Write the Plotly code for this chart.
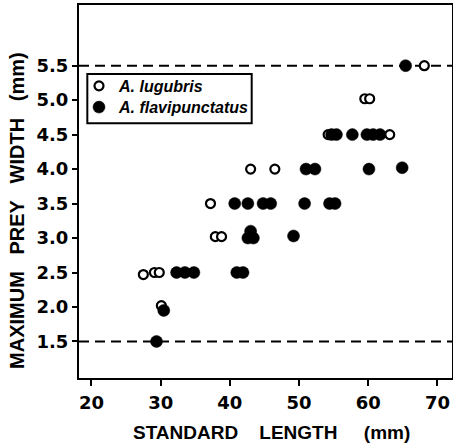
import plotly.graph_objects as go

# A. lugubris (open circles)
lug_x = [27.5, 29.1, 29.8, 30.1, 37.2, 37.9, 38.8, 43.0, 46.5, 54.2, 59.5, 60.2, 63.1, 68.1]
lug_y = [2.47, 2.5, 2.5, 2.02, 3.5, 3.02, 3.02, 4.0, 4.0, 4.5, 5.02, 5.02, 4.5, 5.5]

# A. flavipunctatus (filled circles)
flav_x = [29.4, 30.45, 32.3, 33.5, 34.8, 41.0, 41.9, 42.6, 43.0, 43.4, 40.7, 42.6, 44.8, 45.9,
          49.2, 50.8, 51.0, 52.3, 54.4, 55.2, 54.7, 55.4, 57.7, 59.8, 60.7, 61.7, 60.1, 64.9, 65.4]
flav_y = [1.5, 1.95, 2.5, 2.5, 2.5, 2.5, 2.5, 3.0, 3.1, 3.0, 3.5, 3.5, 3.5, 3.5,
          3.03, 3.5, 4.0, 4.0, 3.5, 3.5, 4.5, 4.5, 4.5, 4.5, 4.5, 4.5, 4.0, 4.02, 5.5]

limit_lines = [1.5, 5.5]
x_ticks = [20, 30, 40, 50, 60, 70]
y_ticks = [1.5, 2.0, 2.5, 3.0, 3.5, 4.0, 4.5, 5.0, 5.5]

NB = "\u00a0"
TICKFONT = dict(family="DejaVu Sans", size=18, color="black", weight="bold")
TITLEFONT = dict(family="Liberation Sans", size=20, color="black", weight="bold")
LEGFONT = dict(family="Liberation Sans", size=16, color="black", style="italic", weight="bold")

fig = go.Figure()
fig.add_trace(go.Scatter(
    x=lug_x, y=lug_y, mode="markers", name="A. lugubris", legend="legend",
    marker=dict(symbol="circle", size=9, color="white", line=dict(color="black", width=2.2)),
))
fig.add_trace(go.Scatter(
    x=flav_x, y=flav_y, mode="markers", name="A. flavipunctatus", legend="legend2",
    marker=dict(symbol="circle", size=12, color="black", line=dict(color="black", width=0.5)),
))

for v in limit_lines:
    fig.add_hline(y=v, line=dict(color="black", width=2, dash="10px,6px"), layer="below")

fig.update_xaxes(
    range=[18.2, 72.1], tickvals=x_ticks, ticks="outside", ticklen=6, tickwidth=2,
    tickcolor="black", showline=True, linecolor="black", linewidth=2, mirror=True,
    showgrid=False, zeroline=False, tickfont=TICKFONT, ticklabelstandoff=1,
    automargin=False,
)
fig.update_yaxes(
    range=[0.97, 6.38], tickvals=y_ticks, tickformat=".1f", ticks="outside", ticklen=5,
    tickwidth=2, tickcolor="black", showline=True, linecolor="black", linewidth=2,
    mirror=True, showgrid=False, zeroline=False, tickfont=TICKFONT, automargin=False,
)

fig.add_annotation(
    text=f"MAXIMUM{NB*3}PREY{NB*3}WIDTH{NB*3}(mm)", textangle=-90,
    xref="paper", yref="paper", x=-0.166, y=0.448, showarrow=False,
    font=TITLEFONT, xanchor="center", yanchor="middle",
)
fig.add_annotation(
    text=f"STANDARD{NB*4}LENGTH{NB*5}(mm)",
    xref="paper", yref="paper", x=0.515, y=-0.147, showarrow=False,
    font=dict(family="Liberation Sans", size=19, color="black", weight="bold"),
    xanchor="center", yanchor="middle",
)

# legend frame
fig.add_shape(type="rect", xref="paper", yref="paper", x0=0.0223, x1=0.463, y0=0.683, y1=0.815,
              line=dict(color="black", width=2), fillcolor="rgba(0,0,0,0)")

leg_common = dict(x=0.0, xanchor="left", yanchor="middle", bgcolor="rgba(0,0,0,0)",
                  borderwidth=0, font=LEGFONT, itemwidth=30)
fig.update_layout(
    width=453, height=448,
    margin=dict(l=79, r=1, t=5, b=70, autoexpand=False),
    paper_bgcolor="white", plot_bgcolor="white",
    showlegend=True,
    legend=dict(y=0.783, **leg_common),
    legend2=dict(y=0.726, **leg_common),
)

fig.write_html("out.html", config={"displayModeBar": False},
               post_script="document.body.style.margin='0px';")
